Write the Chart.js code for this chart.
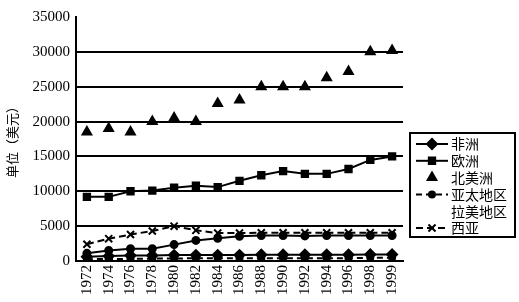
<!DOCTYPE html>
<html>
<head>
<meta charset="utf-8">
<script src="https://cdn.jsdelivr.net/npm/chart.js@4/dist/chart.umd.min.js"></script>
<style>
  html, body { margin: 0; padding: 0; background: #fff; }
</style>
</head>
<body>
<canvas id="chart" width="519" height="302"></canvas>
<script>
// categories
const years = ['1972', '1974', '1976', '1978', '1980', '1982', '1984', '1986',
               '1988', '1990', '1992', '1994', '1996', '1998', '1999'];

// series values (US$)
const africa      = [600, 700, 800, 800, 850, 850, 850, 850, 900, 900, 900, 900, 900, 950, 950];
const europe      = [9200, 9200, 10000, 10100, 10500, 10800, 10600, 11500, 12300, 12900, 12500, 12500, 13200, 14500, 15000];
const northAmerica = [18500, 19000, 18500, 20000, 20500, 20000, 22600, 23100, 25000, 25000, 25000, 26300, 27200, 30000, 30200];
const asiaPacific = [250, 300, 300, 350, 350, 400, 400, 400, 400, 400, 400, 400, 400, 450, 450];
const latinAmerica = [1100, 1500, 1750, 1750, 2350, 2950, 3250, 3550, 3650, 3650, 3600, 3650, 3650, 3650, 3650];
const westAsia    = [2400, 3200, 3800, 4300, 5000, 4400, 4000, 4000, 4050, 4050, 4050, 4050, 4050, 4050, 4050];

// y axis ticks
const yMin = 0, yMax = 35000, yStep = 5000;

const seriesNames = ['非洲', '欧洲', '北美洲', '亚太地区', '拉美地区', '西亚'];

const black = '#000';
const cjk = '"Noto Sans CJK SC", "Noto Sans", sans-serif';

// framed legend drawn next to the plot, like the printed figure
const legendBox = {
  id: 'legendBox',
  afterDraw(chart) {
    const ctx = chart.ctx;
    const x0 = 410, y0 = 133, w = 105, h = 104;
    ctx.save();
    ctx.strokeStyle = black;
    ctx.lineWidth = 2;
    ctx.strokeRect(x0, y0, w, h);
    chart.data.datasets.forEach((ds, i) => {
      const y = y0 + 11 + i * 16.8;
      if (!ds.noLegendSymbol) {
        if (ds.showLine !== false) {
          ctx.beginPath();
          ctx.setLineDash(ds.borderDash || []);
          ctx.lineWidth = ds.borderWidth;
          ctx.moveTo(x0 + 6, y);
          ctx.lineTo(x0 + 38, y);
          ctx.stroke();
          ctx.setLineDash([]);
        }
        ctx.fillStyle = black;
        ctx.strokeStyle = black;
        Chart.helpers.drawPoint(ctx, {
          pointStyle: ds.pointStyle,
          radius: ds.pointRadius,
          borderWidth: ds.pointBorderWidth || 1,
          rotation: 0
        }, x0 + 22, y);
      }
      ctx.fillStyle = black;
      ctx.font = '14px ' + cjk;
      ctx.textBaseline = 'middle';
      ctx.textAlign = 'left';
      ctx.fillText(ds.label, x0 + 41, y);
    });
    ctx.restore();
  }
};

const common = {
  borderColor: black,
  backgroundColor: black,
  pointBackgroundColor: black,
  pointBorderColor: black,
  borderWidth: 2,
  tension: 0
};

new Chart(document.getElementById('chart'), {
  type: 'line',
  data: {
    labels: years,
    datasets: [
      { ...common, label: seriesNames[0], data: africa, pointStyle: 'rectRot', pointRadius: 5 },
      { ...common, label: seriesNames[1], data: europe, pointStyle: 'rect', pointRadius: 4.5 },
      { ...common, label: seriesNames[2], data: northAmerica, pointStyle: 'triangle', pointRadius: 5, showLine: false },
      { ...common, label: seriesNames[3], data: asiaPacific, pointStyle: 'circle', pointRadius: 3, borderDash: [6, 4] },
      { ...common, label: seriesNames[4], data: latinAmerica, pointStyle: 'circle', pointRadius: 3.5, noLegendSymbol: true },
      { ...common, label: seriesNames[5], data: westAsia, pointStyle: 'crossRot', pointRadius: 5, pointBorderWidth: 2, borderDash: [7, 4] }
    ]
  },
  options: {
    responsive: false,
    animation: false,
    layout: { padding: { left: 0, right: 116, top: 17, bottom: 0 } },
    plugins: {
      legend: { display: false },
      tooltip: { enabled: false }
    },
    scales: {
      x: {
        offset: true,
        grid: { display: false, drawTicks: false },
        border: { display: true, color: black, width: 2 },
        ticks: {
          color: black,
          font: { family: '"Liberation Serif", serif', size: 15 },
          minRotation: 90,
          maxRotation: 90,
          autoSkip: false,
          padding: 4
        },
        afterFit: (s) => { s.height = 41; }
      },
      y: {
        min: yMin,
        max: yMax,
        grid: {
          color: (c) => (c.tick && c.tick.value === yMax) ? 'rgba(0,0,0,0)' : black,
          lineWidth: 2,
          drawTicks: false
        },
        border: { display: true, color: black, width: 2 },
        ticks: {
          stepSize: yStep,
          color: black,
          font: { family: '"Liberation Serif", serif', size: 15 },
          padding: 6,
          callback: (v) => String(v)
        },
        title: {
          display: true,
          text: '单位（美元）',
          color: black,
          font: { family: cjk, size: 13 },
          padding: { top: 4, bottom: 0 }
        },
        afterFit: (s) => { s.width = 76; }
      }
    }
  },
  plugins: [legendBox]
});
</script>
</body>
</html>
